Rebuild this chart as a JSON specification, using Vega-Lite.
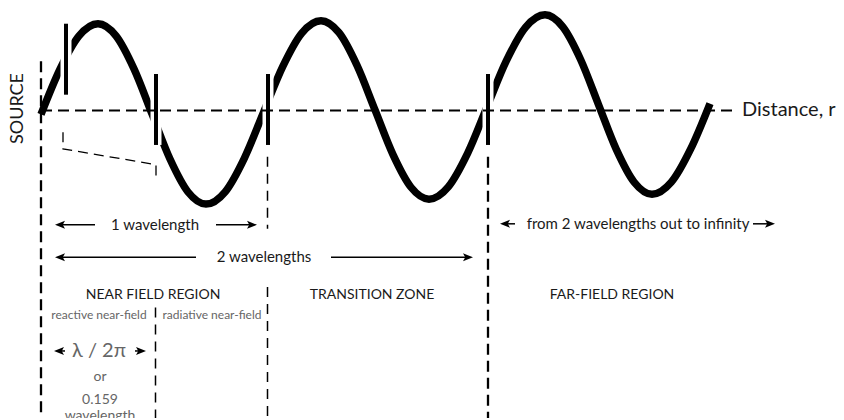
{
  "$schema": "https://vega.github.io/schema/vega-lite/v6.json",
  "width": 844,
  "height": 420,
  "autosize": {"type": "fit", "contains": "padding"},
  "padding": 0,
  "background": "white",
  "config": {"view": {"stroke": null}, "text": {"font": "Lato"}},
  "encoding": {
    "x": {"field": "x", "type": "quantitative", "scale": {"domain": [0, 844], "nice": false, "zero": false}, "axis": null},
    "y": {"field": "y", "type": "quantitative", "scale": {"domain": [0, 420], "nice": false, "zero": false, "reverse": true}, "axis": null}
  },
  "layer": [
    {
      "data": {"values": [
        {"i": 0, "x": 41, "y": 112}, {"i": 1, "x": 60, "y": 66}, {"i": 2, "x": 79, "y": 32.3}, {"i": 3, "x": 98, "y": 20},
        {"i": 4, "x": 116, "y": 32.3}, {"i": 5, "x": 134, "y": 65.8}, {"i": 6, "x": 152, "y": 111.5}, {"i": 7, "x": 170, "y": 157.3},
        {"i": 8, "x": 188, "y": 190.7}, {"i": 9, "x": 206, "y": 203}, {"i": 10, "x": 225.2, "y": 190.5}, {"i": 11, "x": 244.3, "y": 156.5},
        {"i": 12, "x": 263.5, "y": 110}, {"i": 13, "x": 282.7, "y": 63.5}, {"i": 14, "x": 301.8, "y": 29.5}, {"i": 15, "x": 321, "y": 17},
        {"i": 16, "x": 339, "y": 29.1}, {"i": 17, "x": 357, "y": 62.3}, {"i": 18, "x": 375, "y": 107.5}, {"i": 19, "x": 393, "y": 152.8},
        {"i": 20, "x": 411, "y": 185.9}, {"i": 21, "x": 429, "y": 198}, {"i": 22, "x": 448.3, "y": 185.5}, {"i": 23, "x": 467.7, "y": 151.3},
        {"i": 24, "x": 487, "y": 104.5}, {"i": 25, "x": 506.3, "y": 57.8}, {"i": 26, "x": 525.7, "y": 23.5}, {"i": 27, "x": 545, "y": 11},
        {"i": 28, "x": 562.8, "y": 23.2}, {"i": 29, "x": 580.7, "y": 56.5}, {"i": 30, "x": 598.5, "y": 102}, {"i": 31, "x": 616.3, "y": 147.5},
        {"i": 32, "x": 634.2, "y": 180.8}, {"i": 33, "x": 652, "y": 193}, {"i": 34, "x": 671.3, "y": 180.7}, {"i": 35, "x": 690.7, "y": 147},
        {"i": 36, "x": 710, "y": 101}
      ]},
      "mark": {"type": "line", "color": "black", "strokeWidth": 7.5, "interpolate": "monotone"},
      "encoding": {"order": {"field": "i"}}
    },
    {
      "data": {"name": "bars", "values": [
        {"x": 66, "y": 20, "y2": 92}, {"x": 156, "y": 71, "y2": 143}, {"x": 268, "y": 71, "y2": 143}, {"x": 488, "y": 71, "y2": 143}
      ]},
      "mark": {"type": "rule", "color": "white", "strokeWidth": 11},
      "encoding": {"y2": {"field": "y2"}}
    },
    {
      "data": {"values": [{"x": 41, "x2": 736, "y": 108}]},
      "mark": {"type": "rule", "color": "black", "strokeWidth": 2, "strokeDash": [11, 6]},
      "encoding": {"x2": {"field": "x2"}}
    },
    {
      "data": {"name": "bars"},
      "mark": {"type": "rule", "color": "black", "strokeWidth": 4},
      "encoding": {"y2": {"field": "y2"}}
    },
    {
      "data": {"values": [{"x": 41, "y": 58, "y2": 420}, {"x": 488, "y": 155, "y2": 420}]},
      "mark": {"type": "rule", "color": "black", "strokeWidth": 2.3, "strokeDash": [11, 6]},
      "encoding": {"y2": {"field": "y2"}}
    },
    {
      "data": {"values": [{"x": 267.5, "y": 155, "y2": 228}, {"x": 267.5, "y": 287, "y2": 420}, {"x": 155.5, "y": 308, "y2": 420}]},
      "mark": {"type": "rule", "color": "black", "strokeWidth": 1.5, "strokeDash": [10, 7]},
      "encoding": {"y2": {"field": "y2"}}
    },
    {
      "data": {"values": [{"i": 0, "x": 63, "y": 130}, {"i": 1, "x": 63, "y": 147}, {"i": 2, "x": 156, "y": 163}, {"i": 3, "x": 156, "y": 180}]},
      "mark": {"type": "line", "color": "black", "strokeWidth": 1.3, "strokeDash": [10, 6]},
      "encoding": {"order": {"field": "i"}}
    },
    {
      "data": {"values": [
        {"x": 58, "x2": 95, "y": 224}, {"x": 216, "x2": 254, "y": 224},
        {"x": 58, "x2": 196, "y": 257}, {"x": 331, "x2": 470, "y": 257},
        {"x": 58, "x2": 65, "y": 352}, {"x": 135, "x2": 142, "y": 352},
        {"x": 503, "x2": 515, "y": 223}, {"x": 753, "x2": 772, "y": 223}
      ]},
      "mark": {"type": "rule", "color": "black", "strokeWidth": 1.5},
      "encoding": {"x2": {"field": "x2"}}
    },
    {
      "data": {"values": [{"x": 60, "y": 224}, {"x": 60, "y": 257}, {"x": 59, "y": 352}, {"x": 505, "y": 223}]},
      "mark": {"type": "point", "shape": "M-1,0L1,-0.8L0.55,0L1,0.8Z", "filled": true, "color": "black", "opacity": 1, "size": 100}
    },
    {
      "data": {"values": [{"x": 252, "y": 224}, {"x": 468, "y": 257}, {"x": 141, "y": 352}, {"x": 770, "y": 223}]},
      "mark": {"type": "point", "shape": "M1,0L-1,-0.8L-0.55,0L-1,0.8Z", "filled": true, "color": "black", "opacity": 1, "size": 100}
    },
    {
      "data": {"values": [{"x": 18, "y": 106, "label": "SOURCE"}]},
      "mark": {"type": "text", "fontSize": 18, "angle": 270, "align": "center", "baseline": "middle", "color": "#1a1a1a"},
      "encoding": {"text": {"field": "label"}}
    },
    {
      "data": {"values": [{"x": 742, "y": 108, "label": "Distance, r"}]},
      "mark": {"type": "text", "fontSize": 20, "align": "left", "baseline": "middle", "color": "#1a1a1a"},
      "encoding": {"text": {"field": "label"}}
    },
    {
      "data": {"values": [
        {"x": 155, "y": 224, "label": "1 wavelength"},
        {"x": 264, "y": 257, "label": "2 wavelengths"},
        {"x": 638, "y": 223, "label": "from 2 wavelengths out to infinity"}
      ]},
      "mark": {"type": "text", "fontSize": 15, "align": "center", "baseline": "middle", "color": "#1a1a1a"},
      "encoding": {"text": {"field": "label"}}
    },
    {
      "data": {"values": [
        {"x": 153, "y": 295, "label": "NEAR FIELD REGION"},
        {"x": 372, "y": 295, "label": "TRANSITION ZONE"},
        {"x": 612, "y": 295, "label": "FAR-FIELD REGION"}
      ]},
      "mark": {"type": "text", "fontSize": 14, "align": "center", "baseline": "middle", "color": "#1a1a1a"},
      "encoding": {"text": {"field": "label"}}
    },
    {
      "data": {"values": [
        {"x": 99, "y": 315, "label": "reactive near-field"},
        {"x": 212, "y": 315, "label": "radiative near-field"}
      ]},
      "mark": {"type": "text", "fontSize": 12, "align": "center", "baseline": "middle", "color": "#666666"},
      "encoding": {"text": {"field": "label"}}
    },
    {
      "data": {"values": [{"x": 99, "y": 352, "label": "λ / 2π"}]},
      "mark": {"type": "text", "fontSize": 20, "align": "center", "baseline": "middle", "color": "#666666"},
      "encoding": {"text": {"field": "label"}}
    },
    {
      "data": {"values": [
        {"x": 100, "y": 378, "label": "or"},
        {"x": 100, "y": 402, "label": "0.159"},
        {"x": 100, "y": 418, "label": "wavelength"}
      ]},
      "mark": {"type": "text", "fontSize": 14, "align": "center", "baseline": "middle", "color": "#666666", "clip": true},
      "encoding": {"text": {"field": "label"}}
    }
  ]
}
